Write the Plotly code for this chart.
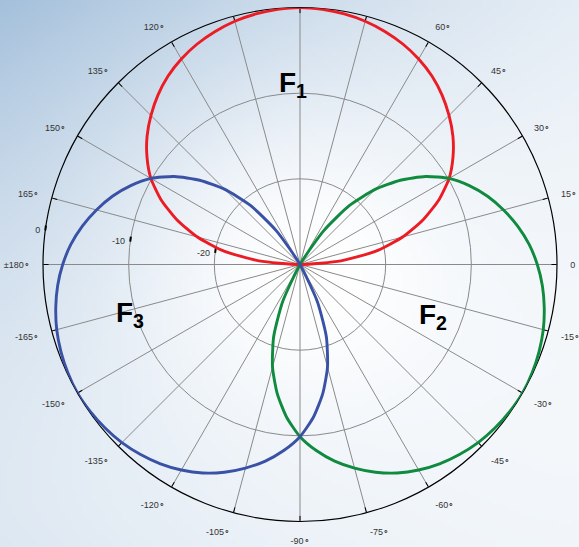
import base64
import struct
import zlib

import plotly.graph_objects as go

# ---------------- data ----------------
# beam pattern level (dB) versus angle away from the beam's main direction
offset_deg = [-90, -85, -80, -75, -70, -65, -60, -55, -50, -45, -40, -35, -30, -25, -20, -15, -10, -5, 0,
              5, 10, 15, 20, 25, 30, 35, 40, 45, 50, 55, 60, 65, 70, 75, 80, 85, 90]
level_db = [-30, -25.2, -21.0, -17.6, -14.7, -12.1, -9.9, -8.2, -6.7, -5.4, -4.2, -3.15, -2.3, -1.6, -1.05, -0.6, -0.3, -0.1, 0,
            -0.1, -0.3, -0.6, -1.05, -1.6, -2.3, -3.15, -4.2, -5.4, -6.7, -8.2, -9.9, -12.1, -14.7, -17.6, -21.0, -25.2, -30]

beam_names = ["F1", "F2", "F3"]
beam_labels = ["<b>F<sub>1</sub></b>", "<b>F<sub>2</sub></b>", "<b>F<sub>3</sub></b>"]
beam_steer_deg = [90, -30, -150]
beam_colors = ["#ec1c24", "#0f8a3e", "#3a52a6"]

radial_ticks = [-20, -10, 0]
radial_ticktext = ["-20", "-10", "0"]
grid_angles = list(range(0, 360, 15))
# 75, 90 and 105 degree labels fall outside the picture in the reference
label_angles = [0, 15, 30, 45, 60, 120, 135, 150, 165, 180, 195, 210, 225, 240, 255, 270,
                285, 300, 315, 330, 345]
label_text = ["0", "15∘", "30∘", "45∘", "60∘", "120∘", "135∘", "150∘", "165∘", "±180∘",
              "-165∘", "-150∘", "-135∘", "-120∘", "-105∘", "-90∘", "-75∘", "-60∘", "-45∘",
              "-30∘", "-15∘"]

# ---------------- background gradient (decoration) ----------------
def gradient_png(w, h):
    tl, tr, bl, br = 1.0, 0.3, 0.38, 0.16
    blue = (164, 192, 219)
    rows = []
    for j in range(h):
        v = j / (h - 1)
        row = bytearray([0])
        for i in range(w):
            u = i / (w - 1)
            a = (tl * (1 - u) ** 1.1 * (1 - v) ** 1.4 + tr * u ** 1.2 * (1 - v) ** 1.6
                 + bl * (1 - u) ** 1.2 * v ** 1.6 + br * u ** 1.2 * v ** 1.6)
            d2 = (u - 0.54) ** 2 + (v - 0.5) ** 2
            s = 2.718281828 ** (-d2 / 0.09)
            t = max(0.0, min(1.0, a * (1 - s)))
            row += bytes(int(round(255 * (1 - t) + c * t)) for c in blue)
        rows.append(bytes(row))
    raw = b"".join(rows)

    def chunk(tag, data):
        return (struct.pack(">I", len(data)) + tag + data
                + struct.pack(">I", zlib.crc32(tag + data) & 0xFFFFFFFF))

    png = (b"\x89PNG\r\n\x1a\n"
           + chunk(b"IHDR", struct.pack(">IIBBBBB", w, h, 8, 2, 0, 0, 0))
           + chunk(b"IDAT", zlib.compress(raw, 9))
           + chunk(b"IEND", b""))
    return "data:image/png;base64," + base64.b64encode(png).decode()


fig = go.Figure()

# lower subplot (polar): grid, outline, inner tick marks, radial ticks
fig.add_trace(go.Scatterpolar(
    r=radial_ticks,
    theta=[172.5] * len(radial_ticks),
    mode="text",
    text=[t + "\u2007" for t in radial_ticktext],
    textposition="middle left",
    textfont=dict(family="Liberation Sans, Arial, sans-serif", size=9, color="#333333"),
    cliponaxis=False,
    subplot="polar",
    hoverinfo="skip",
))

# upper subplot (polar2): the beam curves and the angle labels
for name, steer, color in zip(beam_names, beam_steer_deg, beam_colors):
    fig.add_trace(go.Scatterpolar(
        r=level_db,
        theta=[steer + o for o in offset_deg],
        mode="lines",
        line=dict(color=color, width=2.9, shape="spline", smoothing=0.6),
        name=name,
        subplot="polar2",
        hoverinfo="skip",
    ))

dom = dict(x=[43 / 579, 557 / 579], y=[25.5 / 547, 539.5 / 547])
grid_col = "#8a8a8a"

fig.update_layout(
    width=579,
    height=547,
    margin=dict(l=0, r=0, t=0, b=0, autoexpand=False),
    paper_bgcolor="white",
    showlegend=False,
    images=[dict(source=gradient_png(116, 110), xref="paper", yref="paper",
                 x=0, y=1, sizex=1, sizey=1, xanchor="left", yanchor="top",
                 sizing="stretch", layer="below")],
    polar=dict(
        domain=dom,
        bgcolor="rgba(0,0,0,0)",
        radialaxis=dict(
            range=[-30, 0],
            tickvals=radial_ticks,
            showticklabels=False,
            ticks="outside",
            ticklen=5,
            tickwidth=1.6,
            tickcolor="black",
            angle=172.5,
            showline=False,
            showgrid=True,
            gridcolor=grid_col,
            gridwidth=0.8,
        ),
        angularaxis=dict(
            rotation=0,
            direction="counterclockwise",
            tickmode="array",
            tickvals=grid_angles,
            ticks="inside",
            ticklen=5,
            tickwidth=1.2,
            tickcolor="black",
            showticklabels=False,
            showline=True,
            linecolor="black",
            linewidth=1.2,
            showgrid=True,
            gridcolor=grid_col,
            gridwidth=0.8,
        ),
    ),
    polar2=dict(
        domain=dom,
        bgcolor="rgba(0,0,0,0)",
        radialaxis=dict(visible=False, range=[-30, 0]),
        angularaxis=dict(
            rotation=0,
            direction="counterclockwise",
            tickmode="array",
            tickvals=label_angles,
            ticktext=label_text,
            ticks="outside",
            ticklen=11,
            tickcolor="rgba(0,0,0,0)",
            tickfont=dict(family="Liberation Sans, Arial, sans-serif", size=9, color="#333333"),
            showline=False,
            showgrid=False,
        ),
    ),
)

label_pos = [(292.5 / 579, 1 - 84 / 547), (433 / 579, 1 - 316 / 547), (130 / 579, 1 - 314 / 547)]
for text, (x, y) in zip(beam_labels, label_pos):
    fig.add_annotation(x=x, y=y, xref="paper", yref="paper", text=text, showarrow=False,
                       font=dict(family="Liberation Sans, Arial, sans-serif", size=28, color="black"),
                       xanchor="center", yanchor="middle")

fig.write_html(
    "out.html",
    config={"displayModeBar": False},
    post_script="document.body.style.margin='0';document.body.style.overflow='hidden';",
)
